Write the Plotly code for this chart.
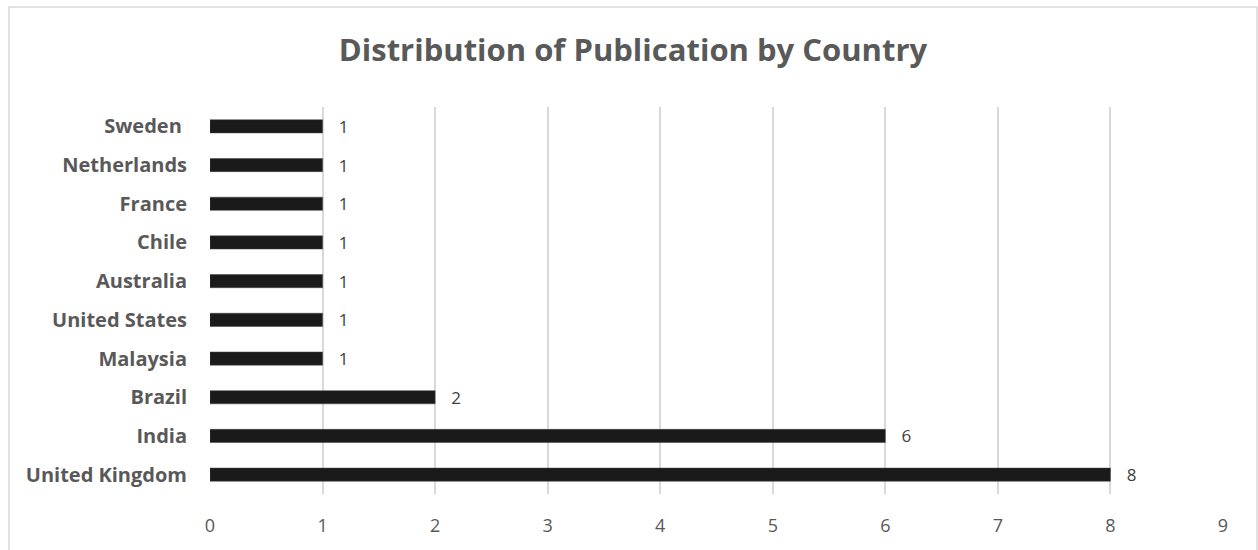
import plotly.graph_objects as go

countries = ["United Kingdom", "India", "Brazil", "Malaysia", "United States",
             "Australia", "Chile", "France", "Netherlands", "Sweden\u00a0"]
counts = [8, 6, 2, 1, 1, 1, 1, 1, 1, 1]
x_ticks = list(range(0, 10))

W, H = 1258, 550
L, R, T, B = 210, 35, 107, 56
pw, ph = W - L - R, H - T - B
FONT = "Open Sans"

fig = go.Figure(go.Bar(
    y=countries, x=counts, orientation="h",
    marker=dict(color="#1a1a1a", line=dict(color="#404040", width=0.5)),
    text=counts, texttemplate="\u00a0\u00a0\u00a0%{x}", textposition="outside",
    constraintext="none",
    textfont=dict(family=FONT, size=17, color="#404040"),
    cliponaxis=False, width=0.34,
))

fig.update_layout(
    width=W, height=H,
    margin=dict(l=L, r=R, t=T, b=B),
    paper_bgcolor="white", plot_bgcolor="white",
    showlegend=False,
    title=dict(text="<b>Distribution of Publication by Country</b>",
               x=633 / W, xanchor="center", y=1 - 50 / H, yanchor="middle",
               font=dict(family=FONT, size=31, color="#595959")),
    xaxis=dict(range=[0, 9], tickvals=x_ticks, showgrid=True,
               gridcolor="#d9d9d9", gridwidth=1.5, zeroline=False,
               showline=False, ticks="", ticklabelstandoff=19,
               tickfont=dict(family=FONT, size=18, color="#595959")),
    yaxis=dict(showgrid=False, showline=False, ticks="", ticklabelstandoff=22,
               categoryorder="array", categoryarray=countries,
               tickfont=dict(family=FONT, size=20, color="#595959", weight="bold")),
    shapes=[dict(type="rect", xref="paper", yref="paper",
                 x0=(9 - L) / pw, x1=(1257 - L) / pw,
                 y0=(H - B - 580) / ph, y1=(H - B - 7) / ph,
                 line=dict(color="#d9d9d9", width=1.5), layer="below")],
)

fig.write_html("out.html")
